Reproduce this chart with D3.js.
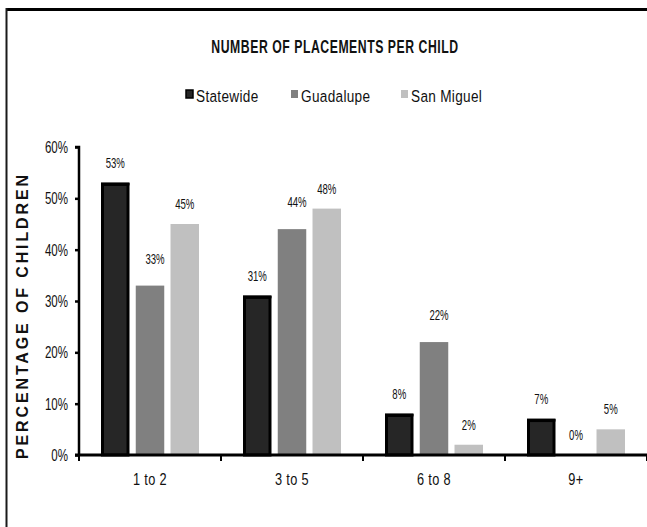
<!DOCTYPE html>
<html><head><meta charset="utf-8">
<script src="https://cdn.jsdelivr.net/npm/d3@7"></script>
<style>
body{margin:0;background:#fff;}
text{font-family:"Liberation Sans",Arial,sans-serif;}
</style></head>
<body><svg id="c" width="647" height="527"></svg>
<script>
const categories = ["1 to 2", "3 to 5", "6 to 8", "9+"];
const seriesNames = ["Statewide", "Guadalupe", "San Miguel"];
const statewide = [53, 31, 8, 7];
const guadalupe = [33, 44, 22, 0];
const sanMiguel = [45, 48, 2, 5];
const yTicks = [0, 10, 20, 30, 40, 50, 60];
const colors = ["#262626", "#808080", "#c0c0c0"];
const title = "NUMBER OF PLACEMENTS PER CHILD";
const yTitle = "PERCENTAGE OF CHILDREN";

const series = [statewide, guadalupe, sanMiguel];
const svg = d3.select("#c");
const W = 647, H = 527;
const m = {left:79, right:0, top:147, bottom:72};

function ctext(g, x, y, str, size, sx, anchor, weight){
  return g.append("text").attr("transform",`translate(${x},${y}) scale(${sx},1)`)
    .attr("text-anchor",anchor||"start").attr("font-size",size)
    .attr("font-weight",weight||"normal").attr("fill","#111").text(str);
}

svg.append("rect").attr("width",W).attr("height",H).attr("fill","#fff");
svg.append("line").attr("x1",6).attr("x2",W).attr("y1",9.5).attr("y2",9.5).attr("stroke","#000").attr("stroke-width",3);
svg.append("line").attr("x1",6.5).attr("x2",6.5).attr("y1",8).attr("y2",H).attr("stroke","#1a1a1a").attr("stroke-width",2);

const x0 = d3.scaleBand().domain(categories).range([m.left, W]).paddingInner(0).paddingOuter(0);
const x1 = d3.scaleBand().domain(seriesNames).range([22, x0.bandwidth()-22]).paddingInner(0.18).paddingOuter(0);
const y = d3.scaleLinear().domain([0,60]).range([H-m.bottom, m.top]);

// title
ctext(svg, 335, 53, title, 18, 0.68, "middle", "bold").attr("letter-spacing",0.8);

// legend
const legX = [186, 291, 401];
seriesNames.forEach((s,i)=>{
  svg.append("rect").attr("x",legX[i]).attr("y",90).attr("width",7).attr("height",8)
    .attr("fill",colors[i]).attr("stroke", i===0?"#000":"none").attr("stroke-width",1.5);
  ctext(svg, legX[i]+10, 102, s, 17, 0.8).attr("letter-spacing",0.4);
});

// y axis title
svg.append("text").attr("transform",`translate(28,${317}) rotate(-90)`)
  .attr("text-anchor","middle").attr("font-size",16).attr("font-weight","bold")
  .attr("textLength",284).attr("lengthAdjust","spacing").attr("fill","#111").text(yTitle);

// bars
const gBars = svg.append("g");
categories.forEach((c,ci)=>{
  series.forEach((vals,si)=>{
    const v = vals[ci];
    const bx = x0(c)+x1(seriesNames[si]);
    const bw = x1.bandwidth();
    if (v>0){
      if (si===0){
        gBars.append("rect").attr("x",bx+1.5).attr("y",y(v)+1.5).attr("width",bw-3).attr("height",y(0)-y(v)-1.5)
          .attr("fill",colors[0]).attr("stroke","#000").attr("stroke-width",3);
        gBars.append("line").attr("x1",bx).attr("x2",bx+bw).attr("y1",y(v)+1).attr("y2",y(v)+1).attr("stroke","#000").attr("stroke-width",3);
      } else {
        gBars.append("rect").attr("x",bx).attr("y",y(v)).attr("width",bw).attr("height",y(0)-y(v)).attr("fill",colors[si]);
      }
    }
    const lift = (si===1 && v>0) ? 22 : 15;
    const dx = (si===1 && v>0) ? 5 : 0;
    ctext(gBars, bx+bw/2+dx, y(v)-lift, v+"%", 15, 0.64, "middle");
  });
});

// y axis
const yAxis = d3.axisLeft(y).tickValues(yTicks).tickFormat(d=>d+"%").tickSize(4).tickPadding(7);
const ga = svg.append("g").attr("transform",`translate(${m.left},0)`).call(yAxis);
ga.select(".domain").attr("stroke","#000").attr("stroke-width",2.5).attr("d",`M-4,${y(60)}H0V${y(0)}`);
ga.selectAll(".tick line").attr("stroke","#000").attr("stroke-width",2.5);
ga.selectAll(".tick text").attr("font-size",17).attr("fill","#111").attr("font-family",null)
  .attr("x",null).attr("transform","translate(-11,0) scale(0.68,1)");

// x axis
const xAxis = d3.axisBottom(x0).tickSize(0).tickPadding(18);
const gx = svg.append("g").attr("transform",`translate(0,${y(0)})`).call(xAxis);
gx.select(".domain").attr("stroke","#000").attr("stroke-width",3).attr("d",`M${m.left-4},0H${W}`);
gx.selectAll(".tick text").attr("font-size",17).attr("fill","#111").attr("font-family",null)
  .attr("letter-spacing",0.5).attr("transform","scale(0.75,1)");
const seps = d3.range(categories.length+1).map(i=>m.left+i*x0.bandwidth());
gx.selectAll(".sep").data(seps).enter().append("line").attr("class","sep")
  .attr("x1",d=>d).attr("x2",d=>d).attr("y1",0).attr("y2",6).attr("stroke","#000").attr("stroke-width",2);
</script></body></html>
